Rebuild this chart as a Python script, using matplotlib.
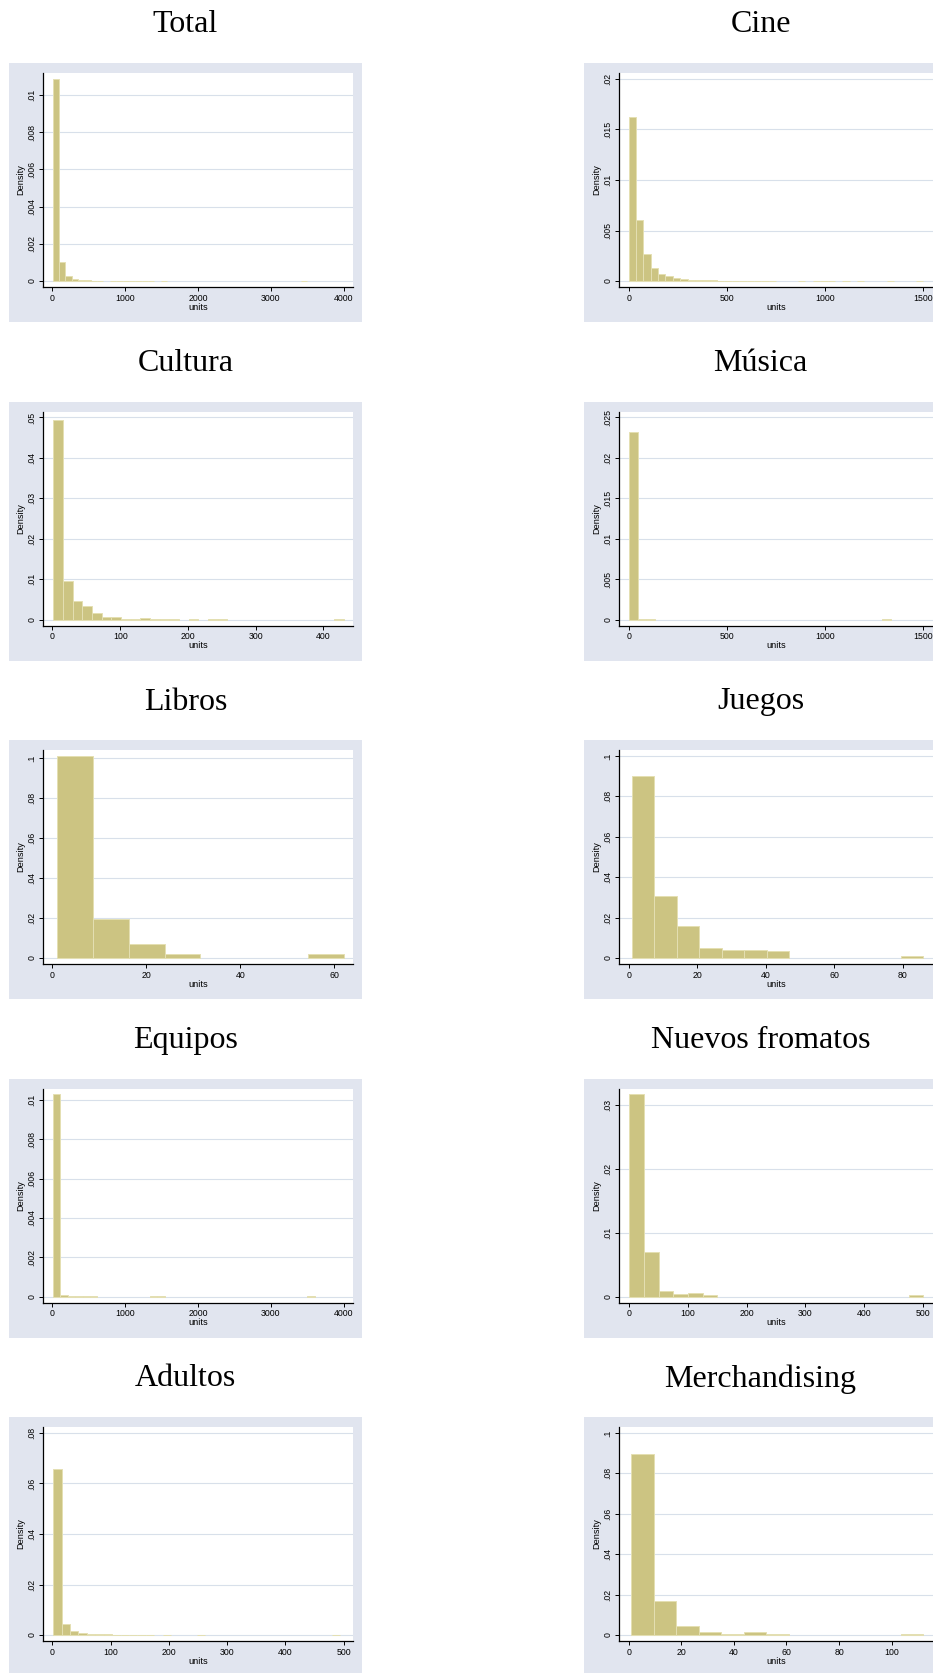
import numpy as np
import matplotlib
matplotlib.use("Agg")
import matplotlib.pyplot as plt
from matplotlib.patches import Rectangle

# panel titles, left->right, top->bottom
titles = ["Total", "Cine", "Cultura", "Música", "Libros", "Juegos",
          "Equipos", "Nuevos fromatos", "Adultos", "Merchandising"]

# histogram bins: first edge and width, densities per bin
total_start, total_width = 1, 87.5
total_dens = [.01086, .00104, .00027, .00011, .00006, .00003, .00002, .00002, 0,
              .00001, .00002, .00001, .00001, .00001, .00001, .00001, 0, .00001] + [0] * 21 + [.00001]

cine_start, cine_width = 0, 37.5
cine_dens = [.0162, .0060, .00265, .00124, .00072, .00046, .00026, .00016, .00011, .00008,
             .00006, .00005, .00004, .00003, .00003, .00003, .00002, .00002, .00002, .00002,
             0, 0, 0, .00002, 0, .00002, .00002, .00002, 0, .00002,
             0, .00002, 0, 0, 0, .00002, 0, 0, 0, .00002]

cultura_start, cultura_width = 1, 14.3
cultura_dens = [.0494, .0095, .0045, .0033, .0016, .0006, .0006, .0002, .0001, .0003,
                .0001, .0001, .0001, 0, .0001, 0, .0001, .0001] + [0] * 11 + [.0001]

musica_start, musica_width = 1, 44.5
musica_dens = [.02325, .0001, .00005] + [0] * 26 + [.00003]

libros_start, libros_width = 1, 7.625
libros_dens = [.1010, .0195, .0071, .0018, 0, 0, 0, .0018]

juegos_start, juegos_width = 1, 6.54
juegos_dens = [.0901, .0306, .0158, .0048, .0038, .0038, .0033, 0, 0, 0, 0, 0, .0008]

equipos_start, equipos_width = 1, 102.9
equipos_dens = [.01029, .00007, .00002, .00002, .00002, .00002] + [0] * 7 + [.00001, .00001] + [0] * 19 + [.00001]

nuevos_start, nuevos_width = 1, 24.95
nuevos_dens = [.0316, .0069, .0009, .0004, .0006, .0002] + [0] * 13 + [.0002]

adultos_start, adultos_width = 1, 14.5
adultos_dens = [.0658, .0043, .0017, .0008, .0005, .0003, .0002, .0001, .0001, .0001,
                .0001, .0001, 0, .0001, 0, 0, 0, .0001] + [0] * 15 + [.0001]

merch_start, merch_width = 1, 8.54
merch_dens = [.0898, .0167, .0043, .0015, .0007, .0015, .0007, 0, 0, 0, 0, 0, .0007]

# axis ticks
total_xticks = [0, 1000, 2000, 3000, 4000]
cine_xticks = [0, 500, 1000, 1500]
cultura_xticks = [0, 100, 200, 300, 400]
musica_xticks = [0, 500, 1000, 1500]
libros_xticks = [0, 20, 40, 60]
juegos_xticks = [0, 20, 40, 60, 80]
equipos_xticks = [0, 1000, 2000, 3000, 4000]
nuevos_xticks = [0, 100, 200, 300, 400, 500]
adultos_xticks = [0, 100, 200, 300, 400, 500]
merch_xticks = [0, 20, 40, 60, 80, 100]

total_yticks = [0, .002, .004, .006, .008, .01]
cine_yticks = [0, .005, .01, .015, .02]
cultura_yticks = [0, .01, .02, .03, .04, .05]
musica_yticks = [0, .005, .01, .015, .02, .025]
libros_yticks = [0, .02, .04, .06, .08, .1]
juegos_yticks = [0, .02, .04, .06, .08, .1]
equipos_yticks = [0, .002, .004, .006, .008, .01]
nuevos_yticks = [0, .01, .02, .03]
adultos_yticks = [0, .02, .04, .06, .08]
merch_yticks = [0, .02, .04, .06, .08, .1]

panels = [
    (total_start, total_width, total_dens, total_xticks, total_yticks),
    (cine_start, cine_width, cine_dens, cine_xticks, cine_yticks),
    (cultura_start, cultura_width, cultura_dens, cultura_xticks, cultura_yticks),
    (musica_start, musica_width, musica_dens, musica_xticks, musica_yticks),
    (libros_start, libros_width, libros_dens, libros_xticks, libros_yticks),
    (juegos_start, juegos_width, juegos_dens, juegos_xticks, juegos_yticks),
    (equipos_start, equipos_width, equipos_dens, equipos_xticks, equipos_yticks),
    (nuevos_start, nuevos_width, nuevos_dens, nuevos_xticks, nuevos_yticks),
    (adultos_start, adultos_width, adultos_dens, adultos_xticks, adultos_yticks),
    (merch_start, merch_width, merch_dens, merch_xticks, merch_yticks),
]

W, H = 933, 1673
BG = "#E1E5EF"
BAR = "#CCC482"
BAR_EDGE = "#E4DFB2"
GRID = "#D8E0EA"

fig = plt.figure(figsize=(W / 100, H / 100), dpi=100)
fig.patch.set_facecolor("white")


def fx(x):
    return x / W


def fy(y):
    return 1 - y / H


def stata_num(v, pos=None):
    s = "%g" % v
    if s.startswith("0."):
        s = s[1:]
    return s


row_step = 338.5
for i, (start, width, dens, xticks, yticks) in enumerate(panels):
    row, col = divmod(i, 2)
    top = 63 + row_step * row
    gx = 9 if col == 0 else 584
    # light graph region behind each panel
    fig.patches.append(Rectangle((fx(gx), fy(top + 259)), 353 / W, 259 / H,
                                 transform=fig.transFigure, facecolor=BG,
                                 edgecolor="none", zorder=-5))
    fig.text(fx(gx + 176.5), fy(top - 38), titles[i], ha="center", va="center",
             fontsize=23, family="Liberation Serif")

    ax_left = 43 if col == 0 else 619
    ax_w = 310 if col == 0 else 314
    ax = fig.add_axes([fx(ax_left), fy(top + 10 + 214), ax_w / W, 214 / H])
    ax.set_facecolor("white")

    dens = np.array(dens)
    lefts = start + width * np.arange(len(dens))
    keep = dens > 0
    ax.bar(lefts[keep], dens[keep], width=width, align="edge", color=BAR,
           edgecolor=BAR_EDGE, linewidth=0.7, zorder=3)

    xlo = min(xticks[0], start)
    xhi = max(xticks[-1], start + width * len(dens))
    xp = 0.0326 * (xhi - xlo)
    ax.set_xlim(xlo - xp, xhi + xp)
    yhi = max(yticks[-1], dens.max())
    yp = 0.0297 * yhi
    ax.set_ylim(-yp, yhi + yp)

    ax.set_xticks(xticks)
    ax.set_yticks(yticks)
    ax.xaxis.set_major_formatter(plt.FuncFormatter(lambda v, p: "%g" % v))
    ax.yaxis.set_major_formatter(plt.FuncFormatter(stata_num))
    for t in yticks:
        ax.axhline(t, color=GRID, linewidth=0.8, zorder=1)

    for s in ["top", "right"]:
        ax.spines[s].set_visible(False)
    for s in ["left", "bottom"]:
        ax.spines[s].set_linewidth(0.9)
        ax.spines[s].set_color("black")
    ax.tick_params(direction="out", length=2.8, width=0.7, pad=2.0,
                   labelsize=6.3, colors="black")
    for lab in ax.get_yticklabels():
        lab.set_rotation(90)
        lab.set_va("center")
        lab.set_family("Liberation Sans")
    for lab in ax.get_xticklabels():
        lab.set_family("Liberation Sans")

    ax.set_ylabel("Density", fontsize=6.6, family="Liberation Sans")
    ax.yaxis.set_label_coords(-0.072, 0.5)
    ax.set_xlabel("units", fontsize=6.6, family="Liberation Sans")
    ax.xaxis.set_label_coords(0.5, -0.095)
    ax.xaxis.label.set_va("center")
    ax.yaxis.label.set_va("center")

fig.savefig("out.png", dpi=100, facecolor="white")
